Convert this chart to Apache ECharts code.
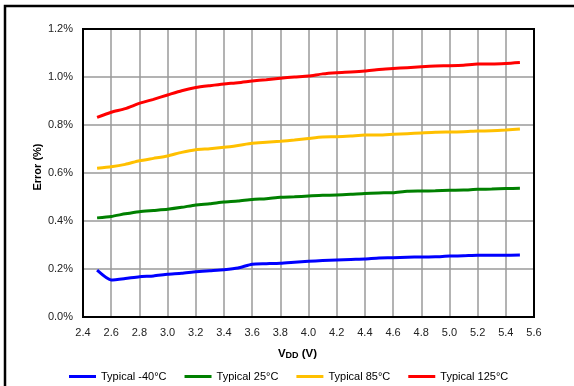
<!DOCTYPE html>
<html>
<head>
<meta charset="utf-8">
<script src="https://cdn.jsdelivr.net/npm/echarts@6/dist/echarts.min.js"></script>
<style>
  html, body { margin: 0; padding: 0; background: #fff; }
  #chart { width: 574px; height: 386px; }
</style>
</head>
<body>
<div id="chart"></div>
<script>
// supply voltage (V)
var vdd = [2.5, 2.6, 2.7, 2.8, 2.9, 3.0, 3.1, 3.2, 3.3, 3.4, 3.5, 3.6, 3.7, 3.8, 3.9, 4.0,
  4.1, 4.2, 4.3, 4.4, 4.5, 4.6, 4.7, 4.8, 4.9, 5.0, 5.1, 5.2, 5.3, 5.4, 5.5];

// error in %
var errM40 = [0.195, 0.154, 0.160, 0.168, 0.171, 0.178, 0.182, 0.189, 0.193, 0.197, 0.204, 0.220,
  0.222, 0.224, 0.228, 0.232, 0.235, 0.2375, 0.240, 0.242, 0.246, 0.247, 0.249, 0.250, 0.251,
  0.254, 0.255, 0.257, 0.257, 0.257, 0.258];
var err25 = [0.413, 0.419, 0.430, 0.439, 0.444, 0.449, 0.457, 0.467, 0.472, 0.479, 0.483, 0.490,
  0.493, 0.499, 0.501, 0.504, 0.507, 0.508, 0.511, 0.515, 0.517, 0.518, 0.524, 0.525, 0.526,
  0.528, 0.529, 0.532, 0.533, 0.535, 0.536];
var err85 = [0.620, 0.626, 0.636, 0.651, 0.661, 0.671, 0.686, 0.697, 0.701, 0.707, 0.715, 0.724,
  0.728, 0.732, 0.7375, 0.744, 0.750, 0.751, 0.754, 0.758, 0.758, 0.761, 0.764, 0.767, 0.770,
  0.771, 0.772, 0.775, 0.776, 0.779, 0.783];
var err125 = [0.832, 0.853, 0.868, 0.890, 0.907, 0.925, 0.943, 0.956, 0.964, 0.971, 0.976, 0.983,
  0.989, 0.995, 1.000, 1.004, 1.013, 1.018, 1.021, 1.025, 1.031, 1.035, 1.039, 1.043, 1.046,
  1.047, 1.049, 1.054, 1.054, 1.056, 1.060];

var seriesNames = ["Typical -40°C", "Typical 25°C", "Typical 85°C", "Typical 125°C"];
var seriesData = [errM40, err25, err85, err125];
var seriesColors = ["#0000ff", "#008000", "#ffc000", "#ff0000"];

function pairs(ys) {
  return vdd.map(function (x, i) { return [x, ys[i]]; });
}

var font = "'Liberation Sans', Arial, sans-serif";

var chart = echarts.init(document.getElementById("chart"), null, { renderer: "canvas" });

var option = {
  backgroundColor: "#fff",
  animation: false,
  textStyle: { fontFamily: font },
  graphic: [
    {
      // outer frame
      type: "rect",
      shape: { x: 5, y: 6, width: 620, height: 420 },
      style: { fill: "none", stroke: "#000", lineWidth: 2.5 },
      z: 100
    }
  ],
  grid: {
    left: 83,
    top: 29,
    right: 40,
    bottom: 69,
    show: true,
    borderColor: "#000",
    borderWidth: 2,
    z: 3
  },
  legend: {
    top: 366,
    left: 64,
    icon: "rect",
    itemWidth: 27,
    itemHeight: 3,
    itemGap: 18,
    textStyle: { fontFamily: font, fontSize: 11, color: "#000" },
    data: seriesNames
  },
  xAxis: {
    type: "value",
    min: 2.4,
    max: 5.6,
    interval: 0.2,
    name: "{a|V}{b|DD}{a| (V)}",
    nameLocation: "middle",
    nameGap: 31,
    nameMoveOverlap: false,
    nameTextStyle: {
      padding: [0, 22, 0, 0],
      rich: {
        a: { fontFamily: font, fontSize: 11.5, fontWeight: "bold", color: "#000" },
        b: { fontFamily: font, fontSize: 9, fontWeight: "bold", color: "#000", verticalAlign: "bottom" }
      }
    },
    axisLine: { show: true, lineStyle: { color: "#000", width: 2 } },
    axisTick: { show: false },
    axisLabel: {
      margin: 10,
      fontFamily: font,
      fontSize: 11,
      color: "#222",
      formatter: function (v) { return v.toFixed(1); }
    },
    splitLine: { show: true, lineStyle: { color: "#9a9a9a", width: 1.5 } }
  },
  yAxis: {
    type: "value",
    min: 0,
    max: 1.2,
    interval: 0.2,
    name: "Error (%)",
    nameLocation: "middle",
    nameGap: 40,
    nameMoveOverlap: false,
    nameTextStyle: {
      fontFamily: font,
      fontSize: 11,
      fontWeight: "bold",
      color: "#000",
      padding: [0, 0, 0, 12]
    },
    axisLine: { show: true, lineStyle: { color: "#000", width: 2 } },
    axisTick: { show: false },
    axisLabel: {
      margin: 10,
      fontFamily: font,
      fontSize: 11,
      color: "#222",
      formatter: function (v) { return v.toFixed(1) + "%"; }
    },
    splitLine: { show: true, lineStyle: { color: "#9a9a9a", width: 1.5 } }
  },
  series: seriesNames.map(function (name, i) {
    return {
      name: name,
      type: "line",
      data: pairs(seriesData[i]),
      showSymbol: false,
      symbol: "none",
      smooth: 0.2,
      color: seriesColors[i],
      lineStyle: { color: seriesColors[i], width: 3 },
      z: 5
    };
  })
};

chart.setOption(option);
</script>
</body>
</html>
